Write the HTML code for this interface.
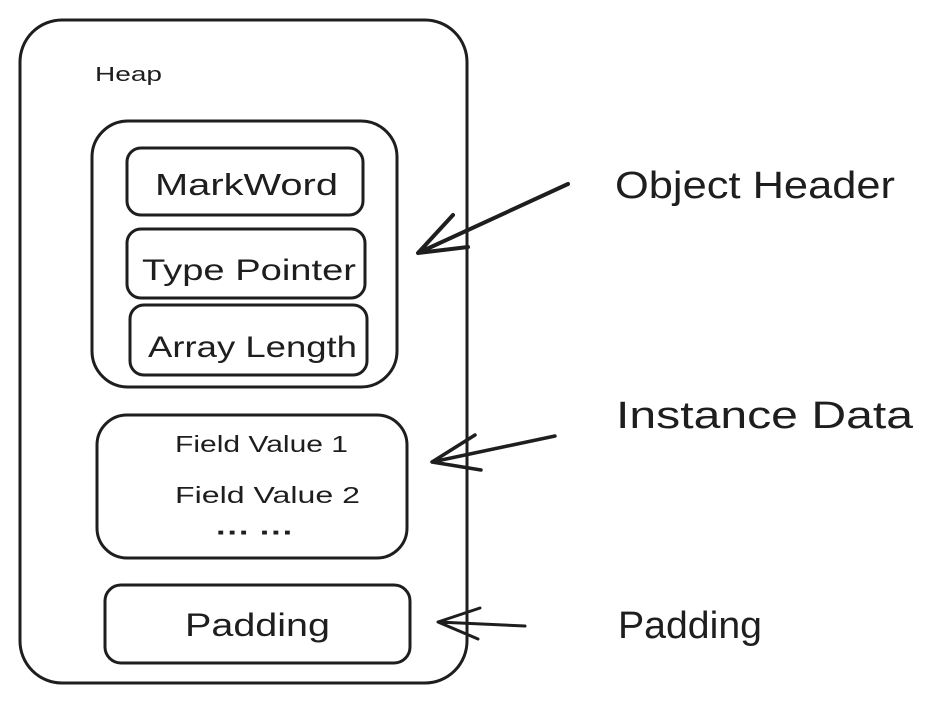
<!DOCTYPE html>
<html><head><meta charset="utf-8"><style>
html,body{margin:0;padding:0;background:#fff;}
svg{display:block}
text{font-family:"Liberation Sans",sans-serif;fill:#1e1e1e}
</style></head><body>
<svg width="935" height="703" viewBox="0 0 935 703" xmlns="http://www.w3.org/2000/svg">
<g fill="none" stroke="#1e1e1e" stroke-width="3" stroke-linecap="round" stroke-linejoin="round">
<rect x="20" y="20" width="447" height="663" rx="42"/>
<rect x="92" y="121" width="305" height="266" rx="36"/>
<rect x="127" y="148" width="236" height="67" rx="14"/>
<rect x="127" y="229" width="238" height="69" rx="14"/>
<rect x="130" y="305" width="237" height="70" rx="14"/>
<rect x="97" y="415" width="310" height="143" rx="30"/>
<rect x="105" y="585" width="305" height="78" rx="16"/>
<path d="M568 184 L418 253 M453 215 L418 253 L468 247" stroke-width="4"/>
<path d="M555 436 L432 462 M475 435 L432 462 L481 470" stroke-width="3.5"/>
<path d="M525 626 L438 622 M480 608 L438 622 L478 639"/>
</g>
<text x="95" y="81" font-size="20" textLength="67" lengthAdjust="spacingAndGlyphs">Heap</text>
<text x="155" y="195" font-size="31" textLength="183" lengthAdjust="spacingAndGlyphs">MarkWord</text>
<text x="142" y="280" font-size="30" textLength="214" lengthAdjust="spacingAndGlyphs">Type Pointer</text>
<text x="148" y="357" font-size="30" textLength="209" lengthAdjust="spacingAndGlyphs">Array Length</text>
<text x="175" y="452" font-size="23" textLength="173" lengthAdjust="spacingAndGlyphs">Field Value 1</text>
<text x="175" y="503" font-size="23" textLength="185" lengthAdjust="spacingAndGlyphs">Field Value 2</text>
<text x="216" y="541" font-size="26" font-weight="bold" textLength="78" lengthAdjust="spacingAndGlyphs">··· ···</text>
<text x="185" y="636" font-size="32" textLength="145" lengthAdjust="spacingAndGlyphs">Padding</text>
<text x="615" y="198" font-size="38" textLength="280" lengthAdjust="spacingAndGlyphs">Object Header</text>
<text x="616" y="428" font-size="38" textLength="297" lengthAdjust="spacingAndGlyphs">Instance Data</text>
<text x="618" y="638" font-size="38" textLength="144" lengthAdjust="spacingAndGlyphs">Padding</text>
</svg>
</body></html>
